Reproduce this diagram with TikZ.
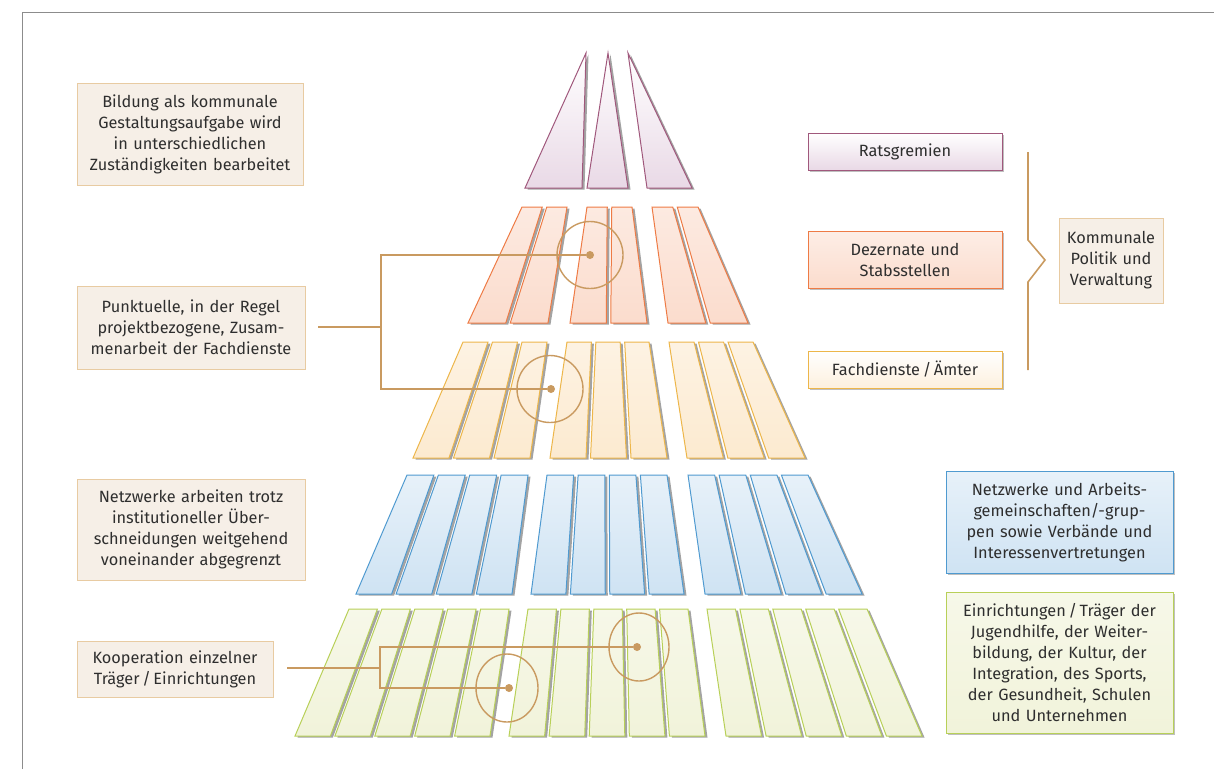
\documentclass[tikz,border=0pt]{standalone}
\usepackage{fontspec}
\setmainfont{Fira Sans}
\usetikzlibrary{shadows,shapes.geometric}
\definecolor{textgray}{HTML}{2E2E2E}
\definecolor{ratline}{HTML}{A0587C}
\definecolor{ratfill}{HTML}{E9D9E6}
\definecolor{dezline}{HTML}{EE7B45}
\definecolor{dezfill}{HTML}{FBDCCD}
\definecolor{fachline}{HTML}{EDB64A}
\definecolor{fachfill}{HTML}{FCEAD0}
\definecolor{netzline}{HTML}{4F9AD0}
\definecolor{netzfill}{HTML}{CFE3F3}
\definecolor{einline}{HTML}{B8D058}
\definecolor{einfill}{HTML}{F1F3DA}
\definecolor{noteline}{HTML}{E8CBA2}
\definecolor{notefill}{HTML}{F6EFE7}
\definecolor{linkcol}{HTML}{C99A60}
\tikzstyle{strip} = [line width=1pt, drop shadow={shadow xshift=2.5pt, shadow yshift=-1.5pt, fill=black!60, opacity=.6}]
\tikzstyle{rat} = [strip, draw=ratline, top color=white, bottom color=ratfill]
\tikzstyle{dez} = [strip, draw=dezline, top color=dezfill!60, bottom color=dezfill]
\tikzstyle{fach} = [strip, draw=fachline, top color=fachfill!60, bottom color=fachfill]
\tikzstyle{netz} = [strip, draw=netzline, top color=netzfill!50, bottom color=netzfill]
\tikzstyle{ein} = [strip, draw=einline, top color=einfill!60, bottom color=einfill]
\tikzstyle{note} = [draw=noteline, fill=notefill, line width=0.8pt, align=center, inner sep=0pt, text=textgray, font={\fontsize{16.3}{21}\selectfont}]
\tikzstyle{box} = [note, line width=1pt, drop shadow={shadow xshift=2pt, shadow yshift=-2pt, fill=black!50, opacity=.5}]
\tikzstyle{link} = [draw=linkcol, line width=1.6pt]
\tikzstyle{dot} = [circle, fill=linkcol, inner sep=0pt, minimum size=8pt]
\tikzstyle{ring} = [ellipse, draw=linkcol, line width=1.4pt, inner sep=0pt]

\begin{document}
\begin{tikzpicture}[x=1pt,y=-1pt]
    \useasboundingbox (0,0) rectangle (1214,769);
    \draw[black!45, line width=1pt] (22,769) -- (22,12) -- (1214,12);
    % pyramid
    \foreach \sty/\n/\yt/\yb/\tl/\tr/\bl/\br in {
        rat/1/53/188/586/586/525/582, rat/1/53/188/608/608/587/628, rat/1/53/188/628/628/647/692,
        dez/2/207/323/522/567/468/548, dez/2/207/323/587/632/570/647, dez/2/207/323/652/698/668/748,
        fach/3/342/458/463/547/413/530, fach/3/342/458/567/649/550/667, fach/3/342/458/669/753/687/805,
        netz/4/475/594/407/528/356/512, netz/4/475/594/547/667/531/684, netz/4/475/594/688/808/705/862,
        ein/5/609/736/349/509/295/490, ein/5/609/736/528/688/509/705, ein/5/609/736/707/867/726/922}{
        \pgfmathsetmacro{\wt}{(\tr-\tl-(\n-1)*4.5)/\n}
        \pgfmathsetmacro{\wb}{(\br-\bl-(\n-1)*4.5)/\n}
        \foreach \k in {1,...,\n}{
            \pgfmathsetmacro{\ta}{\tl+(\k-1)*(\wt+4.5)}
            \pgfmathsetmacro{\ba}{\bl+(\k-1)*(\wb+4.5)}
            \draw[\sty] (\ta,\yt) -- (\ta+\wt,\yt) -- (\ba+\wb,\yb) -- (\ba,\yb) -- cycle;
        }
    }
    % left notes
    \node[note, minimum width=226pt, minimum height=102pt, text width=220pt](bildung) at (190,134){Bildung als kommunale\\Gestaltungsaufgabe wird\\in unterschiedlichen\\Zuständigkeiten bearbeitet};
    \node[note, minimum width=228pt, minimum height=83pt, text width=222pt](punkt) at (191,327.5){Punktuelle, in der Regel\\projektbezogene, Zusam-\\menarbeit der Fachdienste};
    \node[note, minimum width=228pt, minimum height=101pt, text width=222pt](abgrenz) at (191,529.5){Netzwerke arbeiten trotz\\institutioneller Über-\\schneidungen weitgehend\\voneinander abgegrenzt};
    \node[note, minimum width=196pt, minimum height=56pt, text width=190pt](koop) at (175,669){Kooperation einzelner\\Träger\,/\,Einrichtungen};
    % right boxes
    \node[box, draw=ratline, top color=white, bottom color=ratfill, minimum width=194pt, minimum height=37pt, text width=188pt](rats) at (905,151.5){Ratsgremien};
    \node[box, draw=dezline, top color=dezfill!50, bottom color=dezfill, minimum width=194pt, minimum height=57pt, text width=188pt](dezern) at (905,259.5){Dezernate und\\Stabsstellen};
    \node[box, draw=fachline, top color=white, bottom color=fachfill!70, minimum width=194pt, minimum height=37pt, text width=188pt](fach) at (905,369.5){Fachdienste\,/\,Ämter};
    \node[note, minimum width=104pt, minimum height=85pt, text width=100pt](kommunal) at (1111,260.5){Kommunale\\Politik und\\Verwaltung};
    \node[box, draw=netzline, top color=netzfill!50, bottom color=netzfill, minimum width=227pt, minimum height=102pt, text width=221pt](netzbox) at (1059.5,522){Netzwerke und Arbeits-\\gemeinschaften/-grup-\\pen sowie Verbände und\\Interessenvertretungen};
    \node[box, draw=einline, top color=einfill!60, bottom color=einfill, minimum width=227pt, minimum height=141pt, text width=221pt](einr) at (1059.5,662.5){Einrichtungen\,/\,Träger der\\Jugendhilfe, der Weiter-\\bildung, der Kultur, der\\Integration, des Sports,\\der Gesundheit, Schulen\\und Unternehmen};
    % brace
    \coordinate (b1) at (1028,152);
    \coordinate (b2) at (1028,240);
    \coordinate (b3) at (1045,260);
    \coordinate (b4) at (1028,282);
    \coordinate (b5) at (1028,370);
    \draw[link] (b1) -- (b2) -- (b3) -- (b4) -- (b5);
    % rings and links
    \node[ring, minimum width=66pt, minimum height=67pt](r1) at (590,255){};
    \node[ring, minimum width=66pt, minimum height=67pt](r2) at (550,389){};
    \node[ring, minimum width=60pt, minimum height=68pt](r3) at (639,647){};
    \node[ring, minimum width=62pt, minimum height=68pt](r4) at (507,688){};
    \node[dot](d1) at (590,255){};
    \node[dot](d2) at (551,389){};
    \node[dot](d3) at (637,647){};
    \node[dot](d4) at (509,688){};
    \coordinate (p0) at (318,327);
    \coordinate (p1) at (381,327);
    \coordinate (p2) at (381,255);
    \coordinate (p3) at (381,389);
    \draw[link] (p0) -- (p1);
    \draw[link] (d1) -- (p2) -- (p3) -- (d2);
    \coordinate (k0) at (287,668);
    \coordinate (k1) at (380,668);
    \coordinate (k2) at (380,647);
    \coordinate (k3) at (380,688);
    \draw[link] (k0) -- (k1);
    \draw[link] (d3) -- (k2) -- (k3) -- (d4);
  \end{tikzpicture}
\end{document}
